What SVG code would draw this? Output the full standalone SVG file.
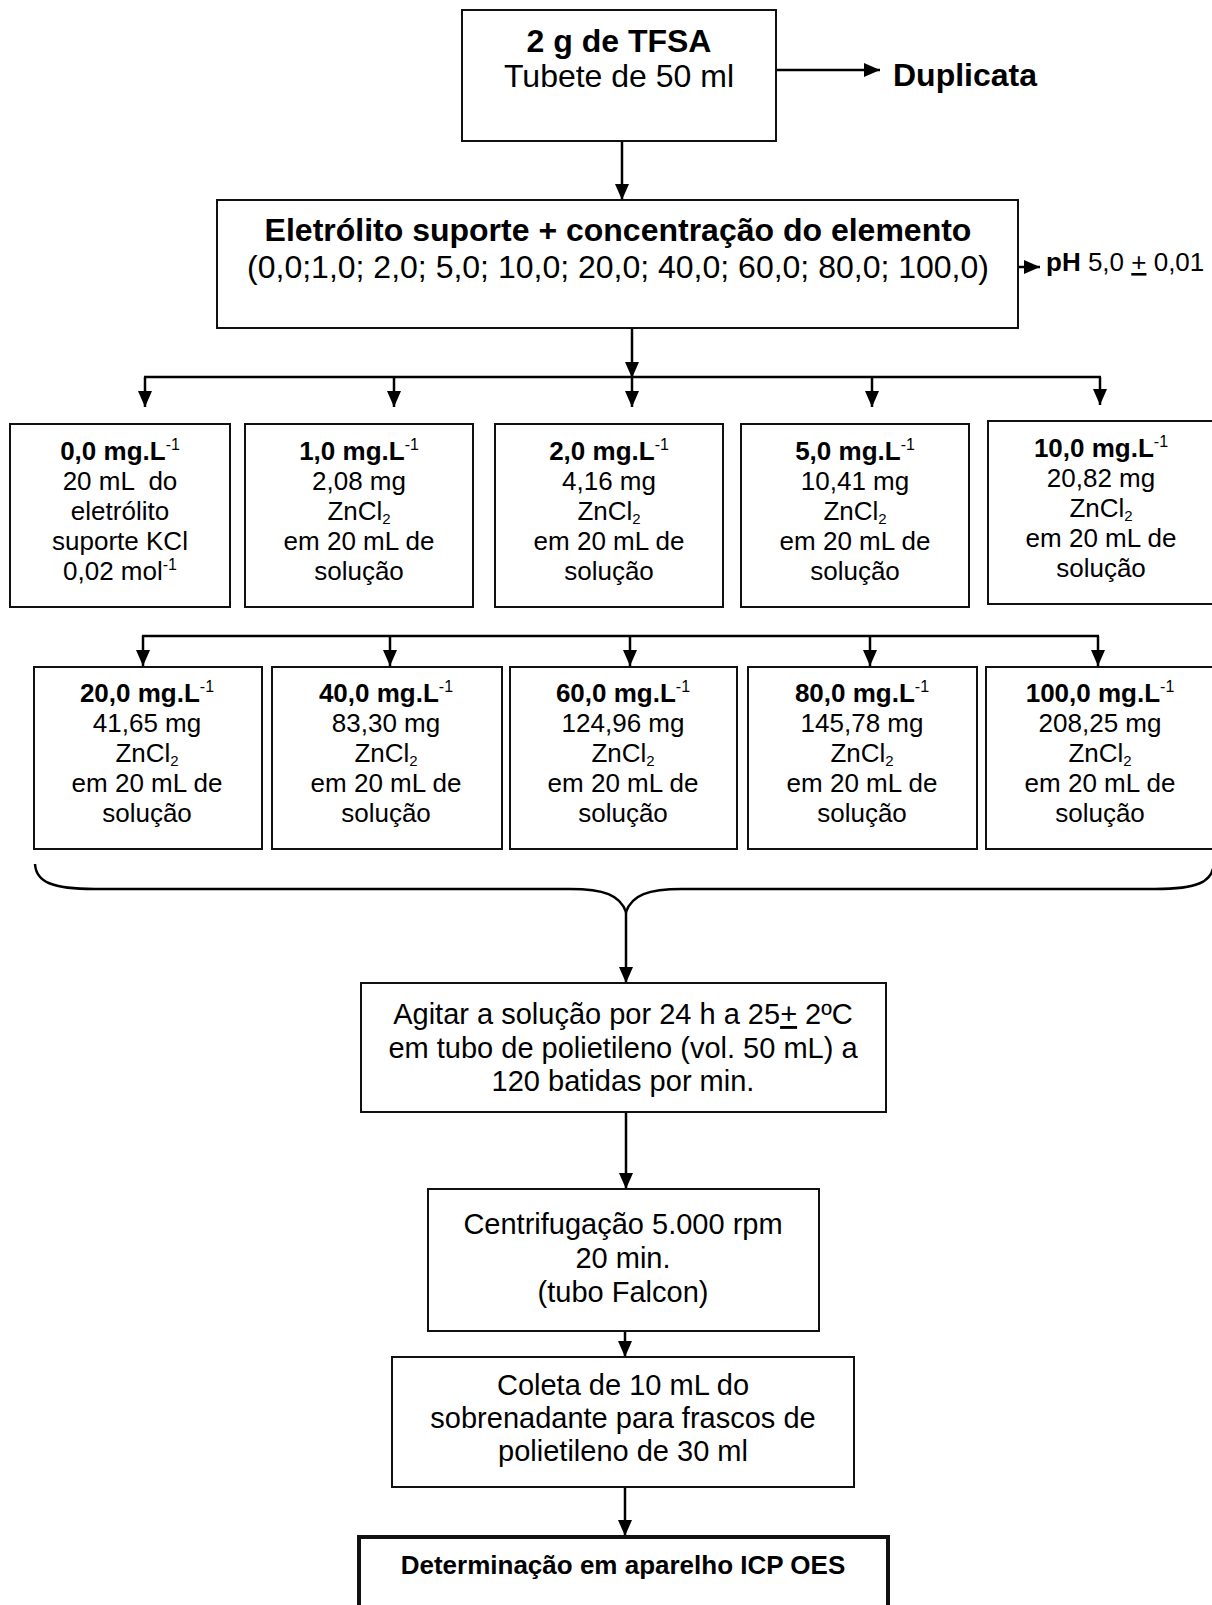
<svg xmlns="http://www.w3.org/2000/svg" width="1212" height="1605" viewBox="0 0 1212 1605">
<defs>
<style>
.bx{fill:#fff;stroke:#111;stroke-width:2}
.bxk{fill:#fff;stroke:#111;stroke-width:4}
.ln{fill:none;stroke:#000;stroke-width:2.5}
.ar{fill:none;stroke:#000;stroke-width:2.5;marker-end:url(#ah)}
text{font-family:"Liberation Sans",Arial,Helvetica,sans-serif;fill:#000;text-anchor:middle}
.f32{font-size:32px}
.f29{font-size:29px}
.f26{font-size:26px}
.b{font-weight:bold}
.sup{font-size:16px;font-weight:normal}
.sub{font-size:15px}
.st{text-anchor:start}
</style>
<marker id="ah" markerUnits="userSpaceOnUse" markerWidth="16" markerHeight="14" refX="16" refY="7" orient="auto">
<path d="M0,0 L16,7 L0,14 z" fill="#000"/>
</marker>
</defs>
<rect width="1212" height="1605" fill="#fff"/>

<g id="connectors">
<line class="ar" x1="776" y1="70" x2="880" y2="70"/>
<line class="ar" x1="622" y1="141" x2="622" y2="200"/>
<line class="ar" x1="1019" y1="267" x2="1040" y2="267"/>
<line class="ar" x1="632" y1="328" x2="632" y2="378"/>
<line class="ln" x1="144" y1="377" x2="1101" y2="377"/>
<line class="ar" x1="145" y1="377" x2="145" y2="407"/>
<line class="ar" x1="394" y1="377" x2="394" y2="407"/>
<line class="ar" x1="632" y1="377" x2="632" y2="407"/>
<line class="ar" x1="872" y1="377" x2="872" y2="407"/>
<line class="ar" x1="1100" y1="377" x2="1100" y2="405"/>
<line class="ln" x1="142" y1="636" x2="1099" y2="636"/>
<line class="ar" x1="143" y1="636" x2="143" y2="666"/>
<line class="ar" x1="390" y1="636" x2="390" y2="666"/>
<line class="ar" x1="630" y1="636" x2="630" y2="666"/>
<line class="ar" x1="870" y1="636" x2="870" y2="666"/>
<line class="ar" x1="1098" y1="636" x2="1098" y2="666"/>
<path class="ln" d="M35,864 C36,882 52,889 95,889 L570,889 C604,889 620,895 626,912 C632,895 648,889 682,889 L1155,889 C1198,889 1212,882 1214,864"/>
<line class="ar" x1="626" y1="912" x2="626" y2="983"/>
<line class="ar" x1="626" y1="1112" x2="626" y2="1189"/>
<line class="ar" x1="625" y1="1331" x2="625" y2="1357"/>
<line class="ar" x1="625" y1="1487" x2="625" y2="1536"/>
</g>

<g id="n-tfsa">
<rect class="bx" x="462" y="10" width="314" height="131"/>
<text class="f32 b" x="619" y="52">2 g de TFSA</text>
<text class="f32" x="619" y="87">Tubete de 50 ml</text>
</g>

<g id="n-duplicata">
<text class="f32 b st" x="893" y="86">Duplicata</text>
</g>

<g id="n-eletrolito">
<rect class="bx" x="217" y="200" width="801" height="128"/>
<text class="f32 b" x="618" y="241">Eletrólito suporte + concentração do elemento</text>
<text class="f32" x="618" y="278">(0,0;1,0; 2,0; 5,0; 10,0; 20,0; 40,0; 60,0; 80,0; 100,0)</text>
</g>

<g id="n-ph">
<text class="f26 st" x="1046" y="271"><tspan class="b">pH</tspan> 5,0 <tspan text-decoration="underline" style="text-decoration:underline">+</tspan> 0,01</text>
</g>

<g id="n-c00">
<rect class="bx" x="10" y="424" width="220" height="183"/>
<text class="f26 b" x="120" y="460">0,0 mg.L<tspan class="sup" dy="-10">-1</tspan></text>
<text class="f26" x="120" y="490" style="white-space:pre">20 mL  do</text>
<text class="f26" x="120" y="520">eletrólito</text>
<text class="f26" x="120" y="550">suporte KCl</text>
<text class="f26" x="120" y="580">0,02 mol<tspan class="sup" dy="-10">-1</tspan></text>
</g>

<g id="n-c01">
<rect class="bx" x="245" y="424" width="228" height="183"/>
<text class="f26 b" x="359" y="460">1,0 mg.L<tspan class="sup" dy="-10">-1</tspan></text>
<text class="f26" x="359" y="490">2,08 mg</text>
<text class="f26" x="359" y="520">ZnCl<tspan class="sub" dy="4">2</tspan></text>
<text class="f26" x="359" y="550">em 20 mL de</text>
<text class="f26" x="359" y="580">solução</text>
</g>

<g id="n-c02">
<rect class="bx" x="495" y="424" width="228" height="183"/>
<text class="f26 b" x="609" y="460">2,0 mg.L<tspan class="sup" dy="-10">-1</tspan></text>
<text class="f26" x="609" y="490">4,16 mg</text>
<text class="f26" x="609" y="520">ZnCl<tspan class="sub" dy="4">2</tspan></text>
<text class="f26" x="609" y="550">em 20 mL de</text>
<text class="f26" x="609" y="580">solução</text>
</g>

<g id="n-c05">
<rect class="bx" x="741" y="424" width="228" height="183"/>
<text class="f26 b" x="855" y="460">5,0 mg.L<tspan class="sup" dy="-10">-1</tspan></text>
<text class="f26" x="855" y="490">10,41 mg</text>
<text class="f26" x="855" y="520">ZnCl<tspan class="sub" dy="4">2</tspan></text>
<text class="f26" x="855" y="550">em 20 mL de</text>
<text class="f26" x="855" y="580">solução</text>
</g>

<g id="n-c10">
<rect class="bx" x="988" y="421" width="228" height="183"/>
<text class="f26 b" x="1101" y="457">10,0 mg.L<tspan class="sup" dy="-10">-1</tspan></text>
<text class="f26" x="1101" y="487">20,82 mg</text>
<text class="f26" x="1101" y="517">ZnCl<tspan class="sub" dy="4">2</tspan></text>
<text class="f26" x="1101" y="547">em 20 mL de</text>
<text class="f26" x="1101" y="577">solução</text>
</g>

<g id="n-c20">
<rect class="bx" x="34" y="667" width="228" height="182"/>
<text class="f26 b" x="147" y="702">20,0 mg.L<tspan class="sup" dy="-10">-1</tspan></text>
<text class="f26" x="147" y="732">41,65 mg</text>
<text class="f26" x="147" y="762">ZnCl<tspan class="sub" dy="4">2</tspan></text>
<text class="f26" x="147" y="792">em 20 mL de</text>
<text class="f26" x="147" y="822">solução</text>
</g>

<g id="n-c40">
<rect class="bx" x="272" y="667" width="230" height="182"/>
<text class="f26 b" x="386" y="702">40,0 mg.L<tspan class="sup" dy="-10">-1</tspan></text>
<text class="f26" x="386" y="732">83,30 mg</text>
<text class="f26" x="386" y="762">ZnCl<tspan class="sub" dy="4">2</tspan></text>
<text class="f26" x="386" y="792">em 20 mL de</text>
<text class="f26" x="386" y="822">solução</text>
</g>

<g id="n-c60">
<rect class="bx" x="510" y="667" width="227" height="182"/>
<text class="f26 b" x="623" y="702">60,0 mg.L<tspan class="sup" dy="-10">-1</tspan></text>
<text class="f26" x="623" y="732">124,96 mg</text>
<text class="f26" x="623" y="762">ZnCl<tspan class="sub" dy="4">2</tspan></text>
<text class="f26" x="623" y="792">em 20 mL de</text>
<text class="f26" x="623" y="822">solução</text>
</g>

<g id="n-c80">
<rect class="bx" x="748" y="667" width="229" height="182"/>
<text class="f26 b" x="862" y="702">80,0 mg.L<tspan class="sup" dy="-10">-1</tspan></text>
<text class="f26" x="862" y="732">145,78 mg</text>
<text class="f26" x="862" y="762">ZnCl<tspan class="sub" dy="4">2</tspan></text>
<text class="f26" x="862" y="792">em 20 mL de</text>
<text class="f26" x="862" y="822">solução</text>
</g>

<g id="n-c100">
<rect class="bx" x="986" y="667" width="230" height="182"/>
<text class="f26 b" x="1100" y="702">100,0 mg.L<tspan class="sup" dy="-10">-1</tspan></text>
<text class="f26" x="1100" y="732">208,25 mg</text>
<text class="f26" x="1100" y="762">ZnCl<tspan class="sub" dy="4">2</tspan></text>
<text class="f26" x="1100" y="792">em 20 mL de</text>
<text class="f26" x="1100" y="822">solução</text>
</g>

<g id="n-agitar">
<rect class="bx" x="361" y="983" width="525" height="129"/>
<text class="f29" x="623" y="1024">Agitar a solução por 24 h a 25<tspan text-decoration="underline" style="text-decoration:underline">+</tspan> 2ºC</text>
<text class="f29" x="623" y="1058">em tubo de polietileno (vol. 50 mL) a</text>
<text class="f29" x="623" y="1091">120 batidas por min.</text>
</g>

<g id="n-centrif">
<rect class="bx" x="428" y="1189" width="391" height="142"/>
<text class="f29" x="623" y="1234">Centrifugação 5.000 rpm</text>
<text class="f29" x="623" y="1268">20 min.</text>
<text class="f29" x="623" y="1302">(tubo Falcon)</text>
</g>

<g id="n-coleta">
<rect class="bx" x="392" y="1357" width="462" height="130"/>
<text class="f29" x="623" y="1395">Coleta de 10 mL do</text>
<text class="f29" x="623" y="1428">sobrenadante para frascos de</text>
<text class="f29" x="623" y="1461">polietileno de 30 ml</text>
</g>

<g id="n-icp">
<rect class="bxk" x="359" y="1537" width="529" height="100"/>
<text class="f26 b" x="623" y="1574">Determinação em aparelho ICP OES</text>
</g>
</svg>
